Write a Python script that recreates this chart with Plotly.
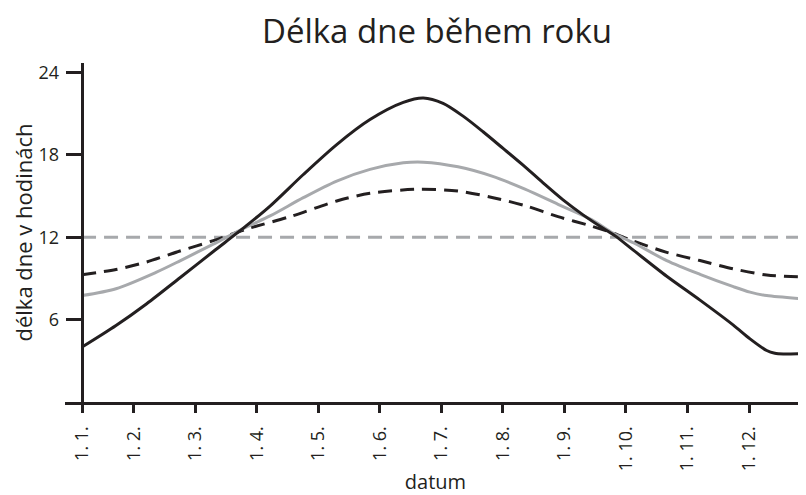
import plotly.graph_objects as go

# month index: 0 = 1. 1., 1 = 1. 2., ...
month_labels = ["1. 1.", "1. 2.", "1. 3.", "1. 4.", "1. 5.", "1. 6.",
                "1. 7.", "1. 8.", "1. 9.", "1. 10.", "1. 11.", "1. 12."]
month_ticks = [0.158, 1, 2, 3, 4, 5, 6, 7, 8, 9, 10, 11]

# black solid (high latitude)
black_x = [0.158, 0.710, 1.209, 1.750, 2.292, 2.835, 3.214, 3.755, 4.298, 4.839,
           5.380, 5.705, 6.027, 6.352, 6.677, 7.002, 7.327, 7.652, 7.977, 8.302,
           8.628, 8.823, 9.119, 9.662, 10.203, 10.745, 11.016, 11.287, 11.420,
           11.557, 11.926]
black_y = [4.0, 5.57, 7.16, 9.05, 10.96, 12.86, 14.27, 16.57, 18.75, 20.57,
           21.82, 22.14, 21.75, 20.82, 19.68, 18.47, 17.25, 15.96, 14.72, 13.63,
           12.65, 12.1, 11.06, 9.16, 7.42, 5.6, 4.6, 3.75, 3.55,
           3.5, 3.53]

# grey solid (middle latitude)
grey_x = [0.158, 0.710, 1.360, 1.750, 2.292, 2.835, 3.214, 3.755, 4.298, 4.839,
          5.380, 5.705, 6.270, 6.822, 7.358, 7.895, 8.447, 8.788, 9.119, 9.662,
          10.203, 10.745, 11.016, 11.287, 11.926]
grey_y = [7.75, 8.25, 9.44, 10.28, 11.5, 12.75, 13.55, 14.88, 16.09, 16.94,
          17.42, 17.47, 17.13, 16.45, 15.5, 14.4, 13.27, 12.3, 11.6, 10.3,
          9.3, 8.4, 8.0, 7.75, 7.5]

# black dashed (lower latitude)
dash_x = [0.158, 0.710, 1.209, 1.750, 2.292, 2.835, 3.539, 4.298, 4.839, 5.652,
          6.270, 6.822, 7.358, 7.895, 8.447, 8.788, 9.119, 9.662, 10.203, 10.745,
          11.287, 11.926]
dash_y = [9.27, 9.65, 10.2, 11.0, 11.75, 12.6, 13.5, 14.64, 15.2, 15.5,
          15.36, 14.9, 14.3, 13.5, 12.8, 12.3, 11.73, 10.9, 10.3, 9.7,
          9.25, 9.1]

# grey dashed (equator)
equator_x = [0.158, 11.926]
equator_y = [12, 12]

y_ticks = [6, 12, 18, 24]

BLACK = "#231f20"
GREY = "#a7a9ac"
FONT = "Open Sans"

# the page places the figure 8 px from the top-left corner
OFF = 8

fig = go.Figure()
fig.add_trace(go.Scatter(x=equator_x, y=equator_y, mode="lines",
                         line=dict(color=GREY, width=3, dash="14px,8px")))
fig.add_trace(go.Scatter(x=dash_x, y=dash_y, mode="lines",
                         line=dict(color=BLACK, width=3, dash="14px,8px", shape="spline", smoothing=0.8)))
fig.add_trace(go.Scatter(x=grey_x, y=grey_y, mode="lines",
                         line=dict(color=GREY, width=3, shape="spline", smoothing=0.8)))
fig.add_trace(go.Scatter(x=black_x, y=black_y, mode="lines",
                         line=dict(color=BLACK, width=3, shape="spline", smoothing=0.8)))

x_left = -0.119
x_right = 11.926
plot_w = 806 - 65
yaxis_pos = (81.7 - 65) / plot_w

fig.update_layout(
    width=806, height=495,
    margin=dict(l=65 - OFF, r=OFF, t=63 - OFF, b=495 - 401.7 + OFF, autoexpand=False),
    paper_bgcolor="white", plot_bgcolor="white",
    showlegend=False,
    font=dict(family=FONT, color=BLACK, size=18),
    title=dict(text="Délka dne během roku", x=(437 - OFF) / 806, xref="container", xanchor="center",
               y=1 - (31 - OFF) / 495, yref="container", yanchor="middle",
               font=dict(family=FONT, size=33, color=BLACK)),
    xaxis=dict(range=[x_left, x_right], tickvals=month_ticks, ticktext=month_labels,
               tickangle=-90, ticks="outside", ticklen=8, tickwidth=3, tickcolor=BLACK,
               showline=True, linecolor=BLACK, linewidth=3, showgrid=False, zeroline=False,
               tickfont=dict(family=FONT, size=18, color=BLACK), ticklabelstandoff=6,
               title=dict(text="datum", standoff=5, font=dict(family=FONT, size=20, color=BLACK))),
    yaxis=dict(range=[0, 24.69], tickvals=y_ticks, anchor="free", position=yaxis_pos,
               ticks="outside", ticklen=15, tickwidth=3, tickcolor=BLACK,
               showline=True, linecolor=BLACK, linewidth=3, showgrid=False, zeroline=False,
               tickfont=dict(family=FONT, size=18, color=BLACK), ticklabelstandoff=3,
               title=dict(text="délka dne v hodinách", standoff=8,
                          font=dict(family=FONT, size=22, color=BLACK))),
)

fig.write_html("out.html")
